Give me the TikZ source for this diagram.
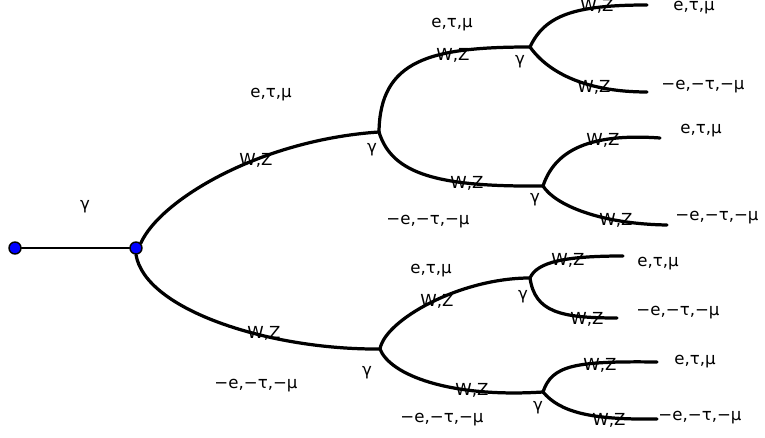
\documentclass[tikz,border=0pt]{standalone}
\usepackage{fontspec}
\setmainfont{DejaVu Sans}
\usepackage{tikz}

\begin{document}
\begin{tikzpicture}[x=0.025cm,y=-0.025cm,line cap=round,line join=round,
  wire/.style={line width=2.3pt},
  dot/.style={circle,draw=black,line width=1pt,fill=blue,inner sep=0pt,minimum size=0.3cm},
  lbl/.style={inner sep=0pt,font=\fontsize{11.8}{14}\selectfont}]
  \useasboundingbox (0,0) rectangle (765,438);
  % vertices
  \node[dot] (A) at (15,248) {};
  \node[dot] (B) at (136,248) {};
  \coordinate (J1) at (379,132);
  \coordinate (J2) at (530,47);
  \coordinate (J3) at (543,186);
  \coordinate (J4) at (380,349);
  \coordinate (J5) at (530,278);
  \coordinate (J6) at (543,392);
  \coordinate (E1) at (647,5);
  \coordinate (E2) at (647,92);
  \coordinate (E3) at (660,138);
  \coordinate (E4) at (667,225);
  \coordinate (E5) at (623,256);
  \coordinate (E6) at (617,318);
  \coordinate (E7) at (657,362);
  \coordinate (E8) at (657,419);
  \draw[line width=1.4pt] (A)--(B);
  % first level
  \draw[wire] (B.north east) .. controls (160,200) and (260,140) .. (J1);
  \draw[wire] (B.south) .. controls (145,310) and (270,350) .. (J4);
  % second level
  \draw[wire] (J1) .. controls (380,60) and (430,47) .. (J2);
  \draw[wire] (J1) .. controls (392,175) and (440,187) .. (J3);
  \draw[wire] (J4) .. controls (385,320) and (460,278) .. (J5);
  \draw[wire] (J4) .. controls (390,375) and (450,398) .. (J6);
  % outer legs
  \draw[wire] (J2) .. controls (545,15) and (575,5) .. (E1);
  \draw[wire] (J2) .. controls (550,75) and (590,92) .. (E2);
  \draw[wire] (J3) .. controls (555,150) and (590,133) .. (E3);
  \draw[wire] (J3) .. controls (555,205) and (600,224) .. (E4);
  \draw[wire] (J5) .. controls (537,262) and (565,256) .. (E5);
  \draw[wire] (J5) .. controls (535,312) and (560,318) .. (E6);
  \draw[wire] (J6) .. controls (552,365) and (575,361) .. (E7);
  \draw[wire] (J6) .. controls (560,412) and (590,420) .. (E8);
  % photon labels
  \node[lbl] (g0) at (85,207) {γ};
  \node[lbl] (g1) at (372,150) {γ};
  \node[lbl] (g2) at (520,62) {γ};
  \node[lbl] (g3) at (535,200) {γ};
  \node[lbl] (g4) at (367,373) {γ};
  \node[lbl] (g5) at (523,297) {γ};
  \node[lbl] (g6) at (538,408) {γ};
  % boson labels
  \node[lbl] (wz1) at (256,160) {W,Z};
  \node[lbl] (wz2) at (264,333) {W,Z};
  \node[lbl] (wz3) at (453,55) {W,Z};
  \node[lbl] (wz4) at (467,183) {W,Z};
  \node[lbl] (wz5) at (437,301) {W,Z};
  \node[lbl] (wz6) at (472,390) {W,Z};
  \node[lbl] (wz7) at (597,6) {W,Z};
  \node[lbl] (wz8) at (594,87) {W,Z};
  \node[lbl] (wz9) at (603,140) {W,Z};
  \node[lbl] (wz10) at (616,220) {W,Z};
  \node[lbl] (wz11) at (568,260) {W,Z};
  \node[lbl] (wz12) at (587,319) {W,Z};
  \node[lbl] (wz13) at (600,365) {W,Z};
  \node[lbl] (wz14) at (609,420) {W,Z};
  % leptons
  \node[lbl] (lp1) at (271,95) {e,τ,μ};
  \node[lbl] (lp2) at (452,25) {e,τ,μ};
  \node[lbl] (lp3) at (694,8) {e,τ,μ};
  \node[lbl] (lp4) at (701,131) {e,τ,μ};
  \node[lbl] (lp5) at (431,271) {e,τ,μ};
  \node[lbl] (lp6) at (658,264) {e,τ,μ};
  \node[lbl] (lp7) at (695,362) {e,τ,μ};
  \node[lbl] (lm1) at (428,222) {−e,−τ,−μ};
  \node[lbl] (lm2) at (256,386) {−e,−τ,−μ};
  \node[lbl] (lm3) at (703,87) {−e,−τ,−μ};
  \node[lbl] (lm4) at (717,218) {−e,−τ,−μ};
  \node[lbl] (lm5) at (678,313) {−e,−τ,−μ};
  \node[lbl] (lm6) at (442,420) {−e,−τ,−μ};
  \node[lbl] (lm7) at (700,418) {−e,−τ,−μ};
\end{tikzpicture}
\end{document}
